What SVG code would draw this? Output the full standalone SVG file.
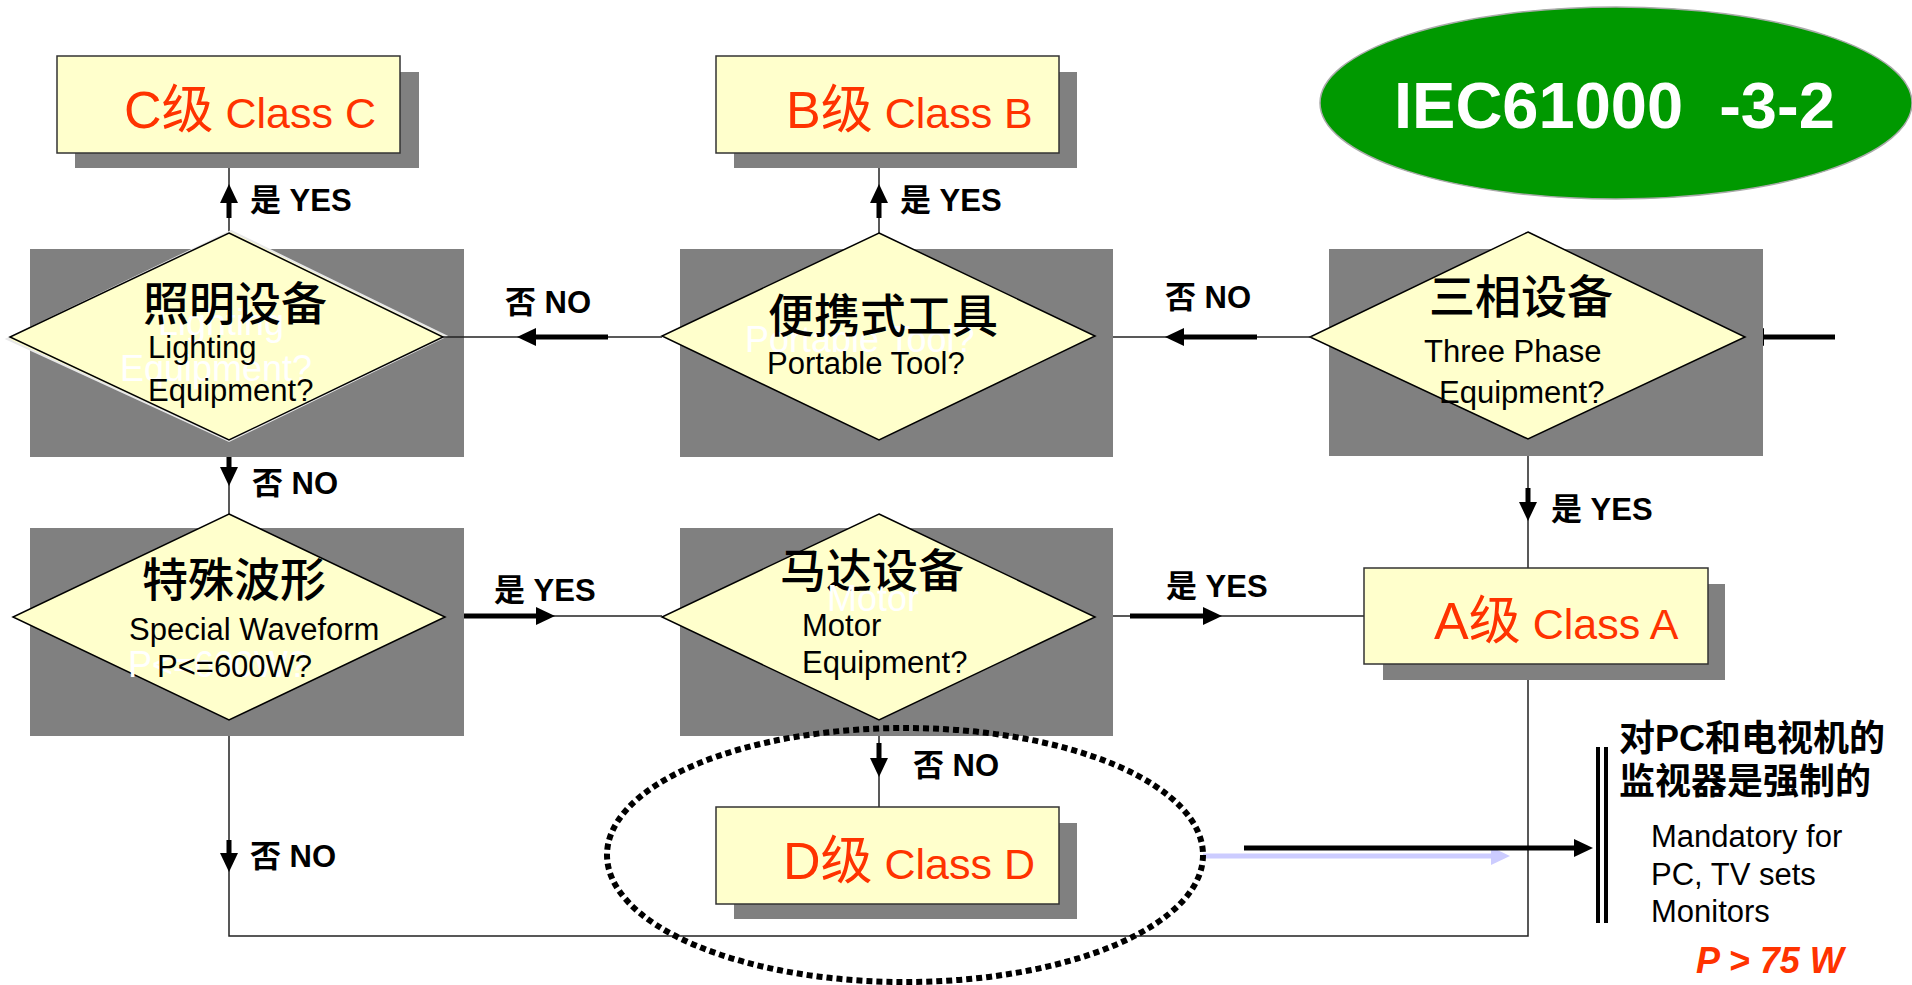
<svg xmlns="http://www.w3.org/2000/svg" width="1912" height="985" viewBox="0 0 1912 985">
<style>
.bg{fill:#ffffff}
.shadow{fill:#808080}
.box{fill:#FFFFCC;stroke:#333333;stroke-width:1.5}
.dia{fill:#FFFFCC;stroke:#000000;stroke-width:1.5}
.cls{font-family:"Liberation Sans","Noto Sans CJK SC",sans-serif;fill:#FF3300}
.q{font-family:"Noto Sans CJK SC","Liberation Sans",sans-serif;font-size:46px;font-weight:500;fill:#000}
.en{font-family:"Liberation Sans","Noto Sans CJK SC",sans-serif;font-size:31px;fill:#000}
.ghost{font-family:"Liberation Sans",sans-serif;font-size:36px;fill:#ffffff}
.lbl{font-family:"Liberation Sans","Noto Sans CJK SC",sans-serif;font-size:31px;font-weight:bold;fill:#000}
.thin{stroke:#222;stroke-width:1.5;fill:none}
.thick{stroke:#000;stroke-width:5;fill:none}
</style>
<defs>
<marker id="ah" markerUnits="userSpaceOnUse" markerWidth="19" markerHeight="18" refX="0" refY="9" orient="auto">
<path d="M0,0 L19,9 L0,18 z" fill="#000"/>
</marker>
<marker id="ahl" markerUnits="userSpaceOnUse" markerWidth="19" markerHeight="18" refX="0" refY="9" orient="auto">
<path d="M0,0 L19,9 L0,18 z" fill="#CCCCFF"/>
</marker>
</defs>
<rect class="bg" x="0" y="0" width="1912" height="985"/>

<g id="standard">
<ellipse cx="1616" cy="103" rx="296" ry="96" fill="#009900" stroke="#aaaaaa" stroke-width="1.5"/>
<text x="1394" y="128" xml:space="preserve" font-family="Liberation Sans, sans-serif" font-size="65" font-weight="bold" fill="#ffffff">IEC61000  -3-2</text>
</g>

<g id="connectors">
<line class="thin" x1="229" y1="233" x2="229" y2="153"/>
<line class="thick" x1="229" y1="218" x2="229" y2="203" marker-end="url(#ah)"/>
<line class="thin" x1="879" y1="233" x2="879" y2="153"/>
<line class="thick" x1="879" y1="218" x2="879" y2="203" marker-end="url(#ah)"/>
<line class="thick" x1="1835" y1="337" x2="1764" y2="337" marker-end="url(#ah)"/>
<line class="thin" x1="1528" y1="439" x2="1528" y2="568"/>
<line class="thick" x1="1528" y1="488" x2="1528" y2="502" marker-end="url(#ah)"/>
<line class="thin" x1="879" y1="720" x2="879" y2="807"/>
<line class="thick" x1="879" y1="743" x2="879" y2="758" marker-end="url(#ah)"/>
<polyline class="thin" points="229,720 229,936 1528,936 1528,664"/>
<line class="thick" x1="229" y1="840" x2="229" y2="853" marker-end="url(#ah)"/>
<line class="thin" x1="229" y1="440" x2="229" y2="514"/>
<line class="thick" x1="229" y1="455" x2="229" y2="467" marker-end="url(#ah)"/>
</g>

<g id="node-lighting">
<rect class="shadow" x="30" y="249" width="434" height="208"/>
<polygon points="231,231 446,336 229,441 7,339" fill="#FFFFCC" stroke="#e8e8e8" stroke-width="2"/>
<polygon class="dia" points="229,233 443,337 229,440 10,337"/>
<text class="ghost" x="158" y="335">Lighting</text>
<text class="ghost" x="120" y="381">Equipment?</text>
<text class="q" x="143" y="320">照明设备</text>
<text class="en" x="148" y="358">Lighting</text>
<text class="en" x="148" y="401">Equipment?</text>
</g>

<g id="node-portable">
<rect class="shadow" x="680" y="249" width="433" height="208"/>
<polygon class="dia" points="879,233 1095,336 879,440 662,336"/>
<text class="ghost" x="745" y="352">Portable Tool?</text>
<text class="q" x="768" y="332">便携式工具</text>
<text class="en" x="767" y="374">Portable Tool?</text>
</g>

<g id="node-threephase">
<rect class="shadow" x="1329" y="249" width="434" height="207"/>
<polygon class="dia" points="1528,232 1745,337 1528,439 1310,337"/>
<text class="q" x="1429" y="313">三相设备</text>
<text class="en" x="1424" y="362">Three Phase</text>
<text class="en" x="1439" y="403">Equipment?</text>
</g>

<g id="node-special">
<rect class="shadow" x="30" y="528" width="434" height="208"/>
<polygon class="dia" points="229,514 445,617 229,720 13,617"/>
<text class="q" x="142" y="596">特殊波形</text>
<text class="en" x="129" y="640">Special Waveform</text>
<text class="ghost" x="128" y="677">P&lt;=600W?</text>
<text class="en" x="157" y="677">P&lt;=600W?</text>
</g>

<g id="node-motor">
<rect class="shadow" x="680" y="528" width="433" height="208"/>
<polygon class="dia" points="879,514 1095,617 879,720 662,617"/>
<text class="q" x="780" y="587">马达设备</text>
<text class="ghost" x="827" y="611">Motor</text>
<text class="en" x="802" y="636">Motor</text>
<text class="en" x="802" y="673">Equipment?</text>
</g>

<g id="connectors-h">
<line class="thin" x1="443" y1="337" x2="662" y2="337"/>
<line class="thick" x1="608" y1="337" x2="536" y2="337" marker-end="url(#ah)"/>
<line class="thin" x1="1113" y1="337" x2="1312" y2="337"/>
<line class="thick" x1="1257" y1="337" x2="1184" y2="337" marker-end="url(#ah)"/>
<line class="thin" x1="464" y1="616" x2="662" y2="616"/>
<line class="thick" x1="464" y1="616" x2="536" y2="616" marker-end="url(#ah)"/>
<line class="thin" x1="1113" y1="616" x2="1365" y2="616"/>
<line class="thick" x1="1130" y1="616" x2="1203" y2="616" marker-end="url(#ah)"/>
<line stroke="#CCCCFF" stroke-width="5" x1="1203" y1="856" x2="1491" y2="856" marker-end="url(#ahl)"/>
<line class="thick" x1="1244" y1="848" x2="1574" y2="848" marker-end="url(#ah)"/>
<rect x="1596" y="747" width="4" height="176" fill="#000"/>
<rect x="1604" y="747" width="4" height="176" fill="#000"/>
</g>

<g id="labels">
<text class="lbl" x="250" y="211">是 YES</text>
<text class="lbl" x="900" y="211">是 YES</text>
<text class="lbl" x="505" y="313">否 NO</text>
<text class="lbl" x="1165" y="308">否 NO</text>
<text class="lbl" x="252" y="494">否 NO</text>
<text class="lbl" x="494" y="601">是 YES</text>
<text class="lbl" x="1166" y="597">是 YES</text>
<text class="lbl" x="1551" y="520">是 YES</text>
<text class="lbl" x="913" y="776">否 NO</text>
<text class="lbl" x="250" y="867">否 NO</text>
</g>

<g id="node-classC">
<rect class="shadow" x="75" y="72" width="344" height="96"/>
<rect class="box" x="57" y="56" width="343" height="97"/>
<text class="cls" x="124" y="128"><tspan font-size="52">C级</tspan><tspan font-size="43"> Class C</tspan></text>
</g>

<g id="node-classB">
<rect class="shadow" x="734" y="72" width="343" height="96"/>
<rect class="box" x="716" y="56" width="343" height="97"/>
<text class="cls" x="786" y="128"><tspan font-size="52">B级</tspan><tspan font-size="43"> Class B</tspan></text>
</g>

<g id="node-classA">
<rect class="shadow" x="1383" y="584" width="342" height="96"/>
<rect class="box" x="1364" y="568" width="344" height="96"/>
<text class="cls" x="1434" y="639"><tspan font-size="52">A级</tspan><tspan font-size="43"> Class A</tspan></text>
</g>

<g id="node-classD">
<rect class="shadow" x="734" y="823" width="343" height="96"/>
<rect class="box" x="716" y="807" width="343" height="97"/>
<text class="cls" x="783" y="879"><tspan font-size="52">D级</tspan><tspan font-size="43"> Class D</tspan></text>
</g>

<g id="highlight">
<ellipse cx="905" cy="855" rx="298" ry="127" fill="none" stroke="#000" stroke-width="6" stroke-dasharray="6 4"/>
</g>

<g id="note">
<text font-family="Liberation Sans, Noto Sans CJK SC, sans-serif" font-size="36" font-weight="bold" fill="#000" x="1619" y="751">对PC和电视机的</text>
<text font-family="Noto Sans CJK SC, sans-serif" font-size="36" font-weight="bold" fill="#000" x="1619" y="794">监视器是强制的</text>
<text class="en" x="1651" y="847">Mandatory for</text>
<text class="en" x="1651" y="885">PC, TV sets</text>
<text class="en" x="1651" y="922">Monitors</text>
<text font-family="Liberation Sans, sans-serif" font-size="36" font-weight="bold" font-style="italic" fill="#FF3300" x="1696" y="973">P &gt; 75 W</text>
</g>
</svg>
